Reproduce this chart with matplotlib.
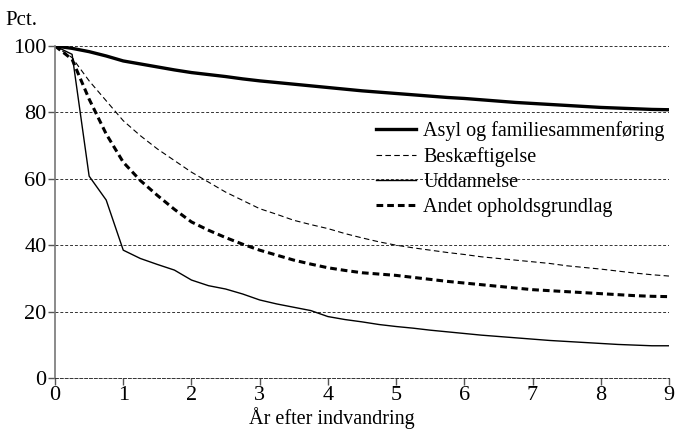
import numpy as np
import matplotlib
matplotlib.use('Agg')
import matplotlib.pyplot as plt

plt.rcParams['font.family'] = ['Liberation Serif', 'DejaVu Serif']

# quarterly observations, years since immigration
years = np.arange(0, 9.01, 0.25)

asyl = [100, 99.3, 98.3, 97.0, 95.5, 94.6, 93.7, 92.8, 92.0, 91.4, 90.8, 90.1,
        89.5, 89.0, 88.5, 88.0, 87.5, 87.0, 86.5, 86.1, 85.7, 85.3, 84.9, 84.5,
        84.2, 83.8, 83.4, 83.0, 82.7, 82.4, 82.1, 81.8, 81.5, 81.3, 81.1, 80.9, 80.8]

beskaeftigelse = [100, 96.5, 89.5, 83.5, 77.5, 73.0, 69.0, 65.5, 62.0, 59.0, 56.0, 53.5,
                  51.0, 49.3, 47.5, 46.2, 45.0, 43.5, 42.2, 41.0, 40.0, 39.2, 38.5, 37.8,
                  37.2, 36.5, 36.0, 35.5, 35.0, 34.5, 33.8, 33.3, 32.8, 32.2, 31.6, 31.1, 30.7]

uddannelse = [100, 97.5, 60.8, 53.6, 38.5, 36.0, 34.2, 32.5, 29.5, 27.8, 26.8, 25.3,
              23.5, 22.3, 21.3, 20.3, 18.5, 17.6, 16.9, 16.1, 15.5, 15.0, 14.4, 13.9,
              13.4, 12.9, 12.5, 12.1, 11.7, 11.3, 11.0, 10.7, 10.4, 10.1, 9.9, 9.7, 9.7]

andet = [100, 96.0, 84.0, 73.5, 65.0, 59.5, 55.0, 50.8, 47.0, 44.5, 42.3, 40.3,
         38.5, 37.0, 35.5, 34.3, 33.2, 32.4, 31.7, 31.3, 30.9, 30.3, 29.7, 29.1,
         28.6, 28.1, 27.6, 27.1, 26.6, 26.3, 26.0, 25.7, 25.4, 25.1, 24.8, 24.6, 24.5]

labels = ['Asyl og familiesammenføring', 'Beskæftigelse', 'Uddannelse',
          'Andet opholdsgrundlag']

fig = plt.figure(figsize=(6.76, 4.30), dpi=100)
ax = fig.add_axes([0.0814, 0.121, 0.9082, 0.772])

ax.plot(years, asyl, color='black', lw=2.4, label=labels[0])
ax.plot(years, beskaeftigelse, color='black', lw=0.8, linestyle=(0, (5, 3)), label=labels[1])
ax.plot(years, uddannelse, color='black', lw=1.0, label=labels[2])
ax.plot(years, andet, color='black', lw=2.2, linestyle=(0, (2.2, 1.3)), label=labels[3])

ax.set_xlim(0, 9)
ax.set_ylim(0, 100)
ax.set_xticks(range(0, 10))
ax.set_yticks(range(0, 101, 20))
ax.yaxis.grid(True, color='#333333', linestyle=(0, (3, 2)), lw=0.7)
ax.set_axisbelow(True)

for s in ['top', 'right']:
    ax.spines[s].set_visible(False)
ax.spines['left'].set_color('#777777')
ax.spines['left'].set_linewidth(1.2)
ax.spines['bottom'].set_color('#333333')
ax.spines['bottom'].set_linestyle((0, (3, 2)))
ax.spines['bottom'].set_linewidth(0.7)

ax.tick_params(axis='both', labelsize=16, length=5, width=1, color='#555555', pad=1)

ax.set_xlabel('År efter indvandring', fontsize=14.5)
ax.xaxis.set_label_coords(0.451, -0.088)
fig.text(0.008, 0.93, 'Pct.', fontsize=15, ha='left', va='bottom')

leg = ax.legend(loc='upper left', bbox_to_anchor=(0.523, 0.775), frameon=False,
                fontsize=14.5, handlelength=2.0, handletextpad=0.35,
                labelspacing=0.3, borderaxespad=0, borderpad=0)

fig.savefig('out.png', dpi=100)
